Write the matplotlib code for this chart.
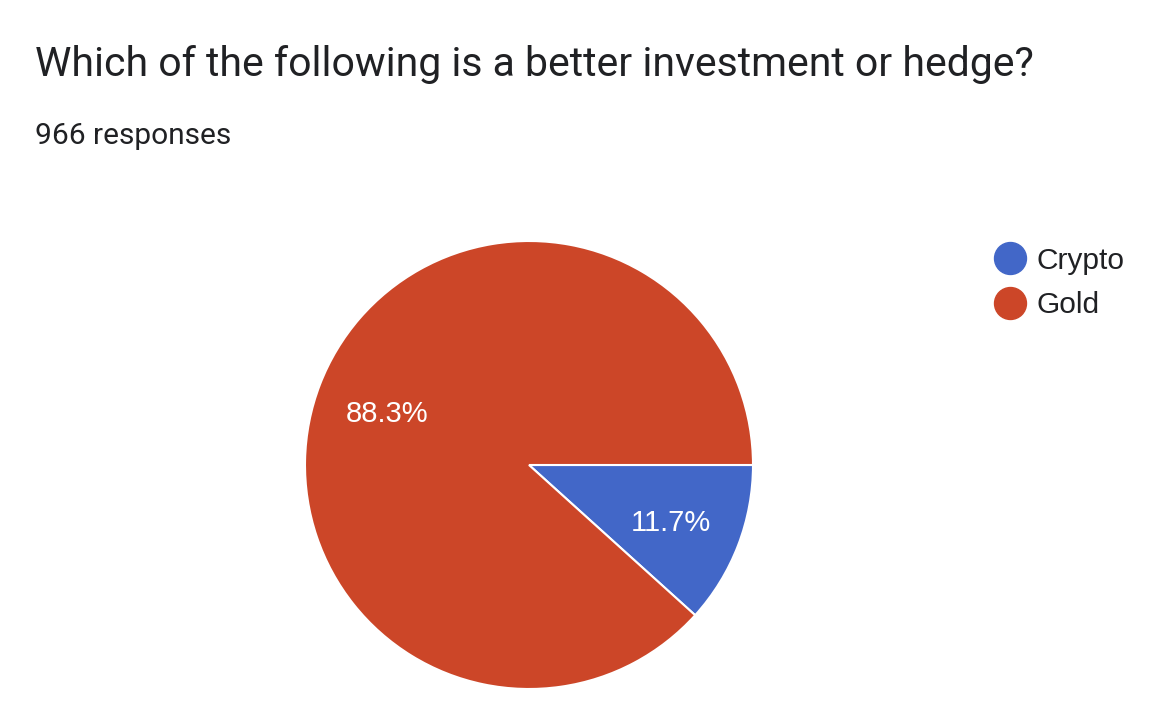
import matplotlib.pyplot as plt
from matplotlib.lines import Line2D

labels = ["Crypto", "Gold"]
counts = [113, 853]
colors = ["#4267c8", "#cc4628"]
title = "Which of the following is a better investment or hedge?"
subtitle = "966 responses"

W, H = 1168, 714
fig = plt.figure(figsize=(W / 100, H / 100), dpi=100)

# pie centred at (529, 465) px, radius 224 px
cx, cy, r = 529, 465, 224
ax = fig.add_axes([(cx - r) / W, 1 - (cy + r) / H, 2 * r / W, 2 * r / H])
wedges, texts, autotexts = ax.pie(
    counts, colors=colors, startangle=0, counterclock=False,
    autopct="%.1f%%", pctdistance=0.68,
    wedgeprops=dict(edgecolor="white", linewidth=1.5),
    textprops=dict(color="white", fontsize=21, family="Liberation Sans"),
)
for t in autotexts:
    t.set_y(t.get_position()[1] - 0.015)
ax.set_aspect("equal")
ax.set_xlim(-1, 1)
ax.set_ylim(-1, 1)

fig.text(35 / W, 1 - 65 / H, title, fontsize=29.5, family="Roboto",
         color="#202124", va="center", ha="left")
fig.text(35 / W, 1 - 136 / H, subtitle, fontsize=21.5, family="Roboto",
         color="#202124", va="center", ha="left")

handles = [Line2D([], [], marker="o", linestyle="", markersize=23,
                  markerfacecolor=c, markeredgecolor=c) for c in colors]
fig.legend(handles, labels, loc="upper left", bbox_to_anchor=(962 / W, 1 - 220 / H),
           frameon=False, handletextpad=0.18, labelspacing=0.54, handlelength=1.4,
           prop=dict(family="Liberation Sans", size=21.5), labelcolor="#202124")

fig.savefig("out.png", dpi=100, facecolor="white")
